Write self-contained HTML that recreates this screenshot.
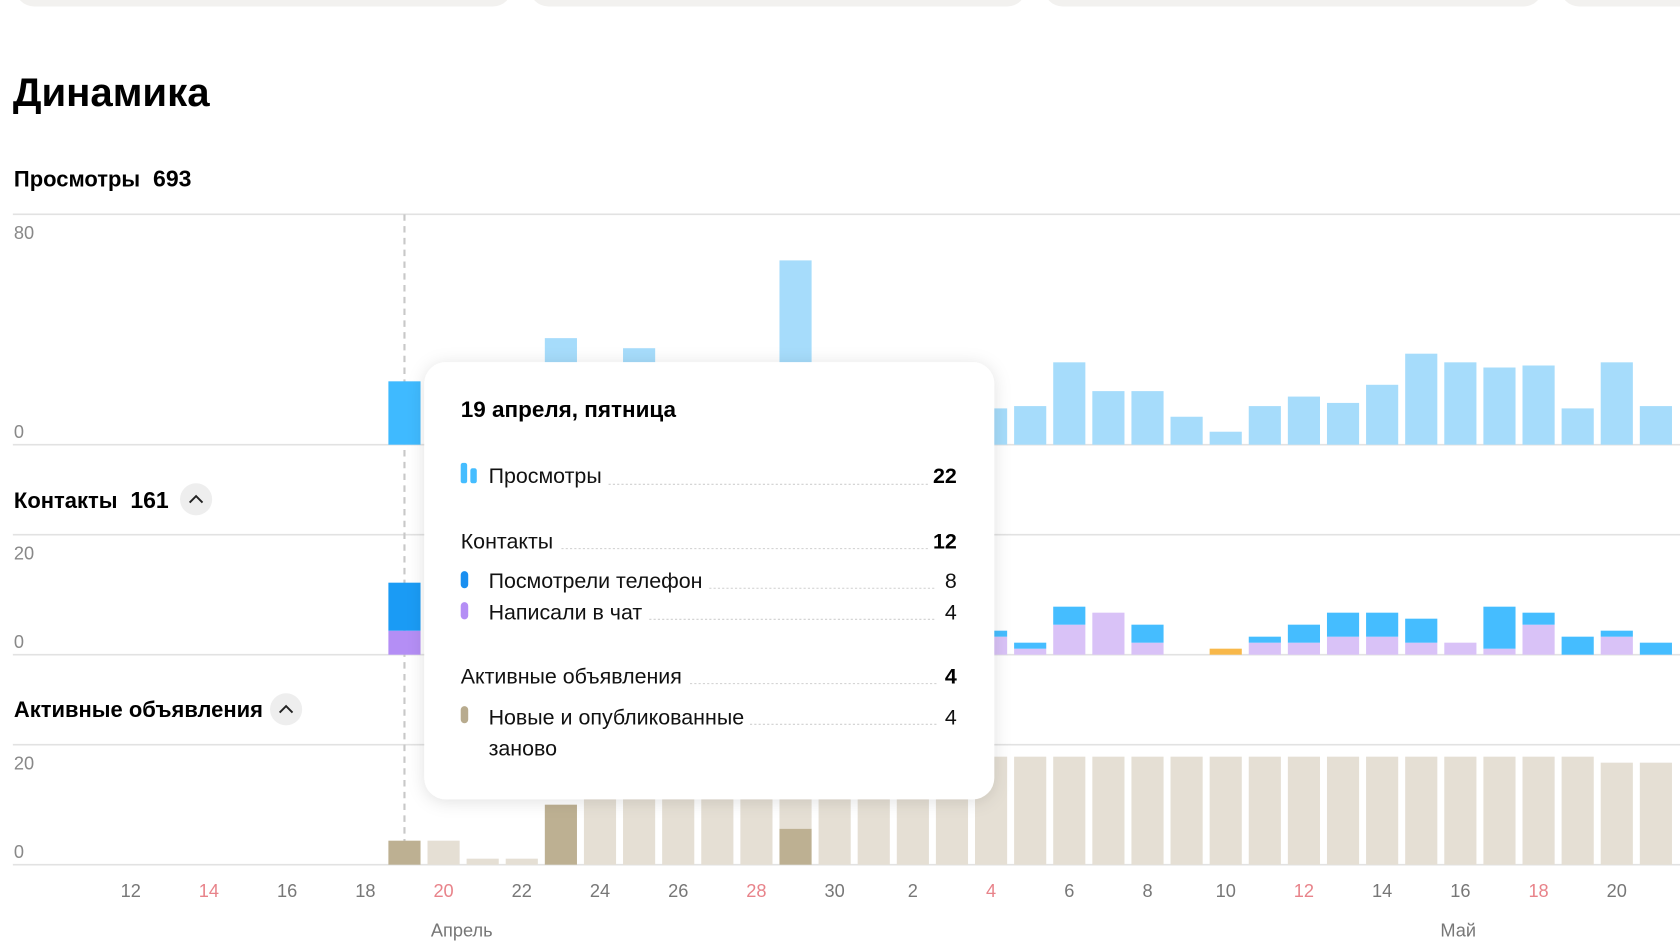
<!DOCTYPE html>
<html><head><meta charset="utf-8"><style>
html,body{margin:0;padding:0;background:#fff;width:1680px;height:944px;overflow:hidden}
svg{display:block;font-family:"Liberation Sans","DejaVu Sans",sans-serif}
</style></head><body>
<svg id="chart" width="1680" height="944" viewBox="0 0 1568 881" xmlns="http://www.w3.org/2000/svg">
<g>
<rect x="14" y="-30" width="464" height="36" rx="18" fill="#f2f1ef"/>
<rect x="494" y="-30" width="464" height="36" rx="18" fill="#f2f1ef"/>
<rect x="974" y="-30" width="466" height="36" rx="18" fill="#f2f1ef"/>
<rect x="1456" y="-30" width="200" height="36" rx="18" fill="#f2f1ef"/>
</g>
<text x="12" y="99" font-size="37.5" font-weight="bold" fill="#000">Динамика</text>
<text x="13" y="174" font-size="20.5" font-weight="bold" fill="#000">Просмотры<tspan dx="12" font-size="21.5">693</tspan></text>
<text x="13" y="474" font-size="20.5" font-weight="bold" fill="#000">Контакты<tspan dx="12" font-size="21.5">161</tspan></text>
<g><circle cx="183" cy="466" r="15" fill="#eeeeee"/><path d="M177 469 L183 463 L189 469" stroke="#222" stroke-width="1.8" fill="none"/></g>
<text x="13" y="669" font-size="20.5" font-weight="bold" fill="#000">Активные объявления</text>
<g><circle cx="267" cy="662" r="15" fill="#eeeeee"/><path d="M261 665 L267 659 L273 665" stroke="#222" stroke-width="1.8" fill="none"/></g>
<g id="grid"></g>
<g id="bars"></g>
<g id="ticks"></g>
</svg>
<script>
const dayLabels=[10,11,12,13,14,15,16,17,18,19,20,21,22,23,24,25,26,27,28,29,30,1,2,3,4,5,6,7,8,9,10,11,12,13,14,15,16,17,18,19,20,21];
const weekend=[14,20,28,'m4','m12','m18'];
const views=[0,0,0,0,0,0,0,0,0,22,20,10,12,37,25,33.5,20,15,18,64,22,15,18,14,12.6,13.4,28.6,18.6,18.6,9.7,4.5,13.4,16.7,14.5,20.8,31.6,28.6,26.8,27.5,12.6,28.6,13.4];
const phone=[0,0,0,0,0,0,0,0,0,8,3,2,1,4,3,2,3,1,2,5,3,2,1,2,1,1,3,0,3,0,0,1,3,4,4,4,0,7,2,3,1,2];
const chat=[0,0,0,0,0,0,0,0,0,4,2,1,1,3,2,2,1,1,2,3,2,1,2,1,3,1,5,7,2,0,0,2,2,3,3,2,2,1,5,0,3,0];
const other=[0,0,0,0,0,0,0,0,0,0,0,0,0,0,0,0,0,0,0,0,0,0,0,0,0,0,0,0,0,0,1,0,0,0,0,0,0,0,0,0,0,0];
const newAds=[0,0,0,0,0,0,0,0,0,4,0,0,0,10,0,0,0,0,0,6,0,0,0,0,0,0,0,0,0,0,0,0,0,0,0,0,0,0,0,0,0,0];
const restAds=[0,0,0,0,0,0,0,0,0,0,4,1,1,0,18,18,18,18,18,12,18,18,18,18,18,18,18,18,18,18,18,18,18,18,18,18,18,18,18,18,17,17];
const tickEvery=[2,4,6,8,10,12,14,16,18,20,22,24,26,28,30,32,34,36,38,40];
const selected=9;
const NS='http://www.w3.org/2000/svg';
function mk(tag,attrs,parent){const e=document.createElementNS(NS,tag);for(const k in attrs)e.setAttribute(k,attrs[k]);parent.appendChild(e);return e;}
const x0=49,step=36.5,bw=30;
function xc(i){return x0+i*step;}
const panels=[{top:200,base:415,max:80,lab:'80'},{top:499,base:611,max:20,lab:'20'},{top:695,base:807,max:20,lab:'20'}];
function yScale(p,v){return (p.base-p.top)*v/p.max;}
const grid=document.getElementById('grid'),bars=document.getElementById('bars'),ticks=document.getElementById('ticks');
panels.forEach((p,k)=>{
 let l=mk('line',{x1:12,x2:1568,y1:p.top,y2:p.top,stroke:'#e2e2e2','stroke-width':1.5},grid);
 
 
 l=mk('line',{x1:12,x2:1568,y1:p.base,y2:p.base,stroke:'#e2e2e2','stroke-width':1.5},grid);
 
 
 let t=mk('text',{x:13,y:p.top+23,'font-size':17,fill:'#888'},grid);t.textContent=p.lab;
 
 
 t=mk('text',{x:13,y:p.base-6,'font-size':17,fill:'#888'},grid);t.textContent='0';
 
 
});
const dl=mk('line',{x1:xc(selected),x2:xc(selected),y1:200,y2:790,stroke:'#c8c8c8','stroke-width':2,'stroke-dasharray':'6 5'},grid);


function bar(x,y,h,fill,name){if(h<=0)return;const r=mk('rect',{x:x-bw/2,y:y,width:bw,height:h,fill:fill},bars);
 
 }
views.forEach((v,i)=>{const p=panels[0];const h=yScale(p,v);bar(xc(i),p.base-h,h,i===selected?'#3fbaff':'#a6dcfb','views-bar');});
phone.forEach((v,i)=>{const p=panels[1];const hc=yScale(p,chat[i]),hp=yScale(p,v),ho=yScale(p,other[i]);
 bar(xc(i),p.base-hc,hc,i===selected?'#b48ef5':'#d9c2f7','chat-bar');
 bar(xc(i),p.base-hc-hp,hp,i===selected?'#1a9bf5':'#45bdff','phone-bar');
 bar(xc(i),p.base-hc-hp-ho,ho,'#f8b84a','other-contact-bar');});
newAds.forEach((v,i)=>{const p=panels[2];const hn=yScale(p,v),hr=yScale(p,restAds[i]);
 bar(xc(i),p.base-hn,hn,'#bdb092','new-ads-bar');
 bar(xc(i),p.base-hn-hr,hr,'#e5dfd4','active-ads-bar');});
tickEvery.forEach(i=>{const d=dayLabels[i];const key=i>=21?'m'+d:d;const red=weekend.includes(key);
 const t=mk('text',{x:xc(i),y:837,'font-size':17,'text-anchor':'middle',fill:red?'#e8838a':'#777'},ticks);t.textContent=d;
 
 });
let m=mk('text',{x:431,y:874,'font-size':17,'text-anchor':'middle',fill:'#777'},ticks);m.textContent='Апрель';


m=mk('text',{x:1361,y:874,'font-size':17,'text-anchor':'middle',fill:'#777'},ticks);m.textContent='Май';


</script>
<svg style="position:absolute;left:0;top:0" width="1680" height="944" viewBox="0 0 1568 881" xmlns="http://www.w3.org/2000/svg">
<defs><filter id="sh" x="-10%" y="-10%" width="120%" height="120%"><feDropShadow dx="0" dy="2" stdDeviation="8" flood-color="#000" flood-opacity="0.12"/></filter></defs>
<g font-family="Liberation Sans, DejaVu Sans, sans-serif">
<rect x="396" y="338" width="532" height="408" rx="20" fill="#fff" filter="url(#sh)"/>
<text x="430" y="389" font-size="21" font-weight="bold" fill="#000">19 апреля, пятница</text>
<g stroke="#cfcfcf" stroke-width="1" stroke-dasharray="2 2">
<line x1="568" x2="866" y1="452" y2="452"/><line x1="524" x2="866" y1="512" y2="512"/>
<line x1="662" x2="874" y1="549" y2="549"/><line x1="606" x2="874" y1="578" y2="578"/>
<line x1="644" x2="874" y1="638" y2="638"/><line x1="700" x2="874" y1="676" y2="676"/>
</g>
<rect x="430" y="432" width="6" height="19" rx="2" fill="#45bdff"/><rect x="439" y="437" width="6" height="14" rx="2" fill="#45bdff"/>
<text x="456" y="451" font-size="20" fill="#111">Просмотры</text>
<text x="893" y="451" font-size="20" font-weight="bold" text-anchor="end" fill="#000">22</text>
<text x="430" y="512" font-size="20" fill="#111">Контакты</text>
<text x="893" y="512" font-size="20" font-weight="bold" text-anchor="end" fill="#000">12</text>
<rect x="430" y="533" width="7" height="16" rx="3.5" fill="#1a8ff0"/>
<text x="456" y="549" font-size="20" fill="#111">Посмотрели телефон</text>
<text x="893" y="549" font-size="20" text-anchor="end" fill="#111">8</text>
<rect x="430" y="562" width="7" height="16" rx="3.5" fill="#b48ef5"/>
<text x="456" y="578" font-size="20" fill="#111">Написали в чат</text>
<text x="893" y="578" font-size="20" text-anchor="end" fill="#111">4</text>
<text x="430" y="638" font-size="20" fill="#111">Активные объявления</text>
<text x="893" y="638" font-size="20" font-weight="bold" text-anchor="end" fill="#000">4</text>
<rect x="430" y="659" width="7" height="16" rx="3.5" fill="#b8ab8e"/>
<text x="456" y="676" font-size="20" fill="#111">Новые и опубликованные</text>
<text x="456" y="705" font-size="20" fill="#111">заново</text>
<text x="893" y="676" font-size="20" text-anchor="end" fill="#111">4</text>
</g>
</svg>
</body></html>
